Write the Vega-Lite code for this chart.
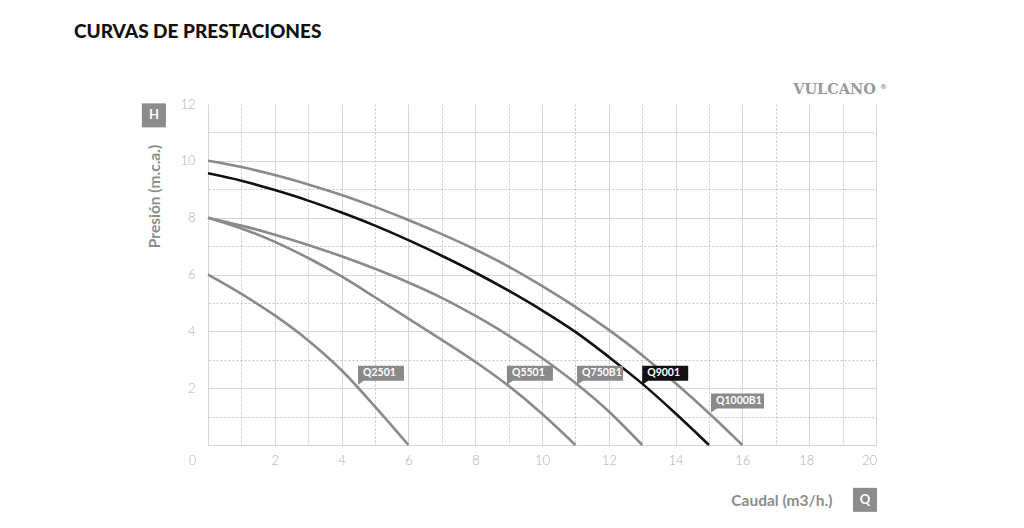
{
  "$schema": "https://vega.github.io/schema/vega-lite/v6.json",
  "width": 668,
  "height": 341,
  "autosize": {"type": "none"},
  "padding": {"left": 208, "top": 104, "right": 148, "bottom": 83},
  "background": "white",
  "title": {
    "text": "CURVAS DE PRESTACIONES",
    "anchor": "start",
    "frame": "group",
    "font": "Lato",
    "fontSize": 19,
    "fontWeight": 900,
    "color": "#111111",
    "dx": -134,
    "offset": 25,
    "baseline": "alphabetic"
  },
  "config": {"view": {"stroke": null}, "font": "Lato"},
  "datasets": {
    "curves": [
      {"s": "Q2501", "q": 0, "h": 6},
      {"s": "Q2501", "q": 1, "h": 5.32},
      {"s": "Q2501", "q": 2, "h": 4.56},
      {"s": "Q2501", "q": 3, "h": 3.68},
      {"s": "Q2501", "q": 4, "h": 2.63},
      {"s": "Q2501", "q": 5, "h": 1.35},
      {"s": "Q2501", "q": 6, "h": 0},
      {"s": "Q5501", "q": 0, "h": 8},
      {"s": "Q5501", "q": 1, "h": 7.62},
      {"s": "Q5501", "q": 2, "h": 7.15},
      {"s": "Q5501", "q": 3, "h": 6.58},
      {"s": "Q5501", "q": 4, "h": 5.93},
      {"s": "Q5501", "q": 5, "h": 5.2},
      {"s": "Q5501", "q": 6, "h": 4.45},
      {"s": "Q5501", "q": 7, "h": 3.7},
      {"s": "Q5501", "q": 8, "h": 2.93},
      {"s": "Q5501", "q": 9, "h": 2.08},
      {"s": "Q5501", "q": 10, "h": 1.1},
      {"s": "Q5501", "q": 11, "h": 0},
      {"s": "Q750B1", "q": 0, "h": 8},
      {"s": "Q750B1", "q": 1, "h": 7.72},
      {"s": "Q750B1", "q": 2, "h": 7.4},
      {"s": "Q750B1", "q": 3, "h": 7.04},
      {"s": "Q750B1", "q": 4, "h": 6.64},
      {"s": "Q750B1", "q": 5, "h": 6.2},
      {"s": "Q750B1", "q": 6, "h": 5.72},
      {"s": "Q750B1", "q": 7, "h": 5.18},
      {"s": "Q750B1", "q": 8, "h": 4.55},
      {"s": "Q750B1", "q": 9, "h": 3.85},
      {"s": "Q750B1", "q": 10, "h": 3.06},
      {"s": "Q750B1", "q": 11, "h": 2.18},
      {"s": "Q750B1", "q": 12, "h": 1.18},
      {"s": "Q750B1", "q": 13, "h": 0},
      {"s": "Q9001", "q": 0, "h": 9.56},
      {"s": "Q9001", "q": 1, "h": 9.3},
      {"s": "Q9001", "q": 2, "h": 8.97},
      {"s": "Q9001", "q": 3, "h": 8.6},
      {"s": "Q9001", "q": 4, "h": 8.18},
      {"s": "Q9001", "q": 5, "h": 7.72},
      {"s": "Q9001", "q": 6, "h": 7.21},
      {"s": "Q9001", "q": 7, "h": 6.66},
      {"s": "Q9001", "q": 8, "h": 6.07},
      {"s": "Q9001", "q": 9, "h": 5.43},
      {"s": "Q9001", "q": 10, "h": 4.74},
      {"s": "Q9001", "q": 11, "h": 3.98},
      {"s": "Q9001", "q": 12, "h": 3.1},
      {"s": "Q9001", "q": 13, "h": 2.16},
      {"s": "Q9001", "q": 14, "h": 1.11},
      {"s": "Q9001", "q": 15, "h": 0},
      {"s": "Q1000B1", "q": 0, "h": 10},
      {"s": "Q1000B1", "q": 1, "h": 9.78},
      {"s": "Q1000B1", "q": 2, "h": 9.5},
      {"s": "Q1000B1", "q": 3, "h": 9.17},
      {"s": "Q1000B1", "q": 4, "h": 8.8},
      {"s": "Q1000B1", "q": 5, "h": 8.38},
      {"s": "Q1000B1", "q": 6, "h": 7.92},
      {"s": "Q1000B1", "q": 7, "h": 7.42},
      {"s": "Q1000B1", "q": 8, "h": 6.88},
      {"s": "Q1000B1", "q": 9, "h": 6.28},
      {"s": "Q1000B1", "q": 10, "h": 5.6},
      {"s": "Q1000B1", "q": 11, "h": 4.86},
      {"s": "Q1000B1", "q": 12, "h": 4.05},
      {"s": "Q1000B1", "q": 13, "h": 3.16},
      {"s": "Q1000B1", "q": 14, "h": 2.17},
      {"s": "Q1000B1", "q": 15, "h": 1.12},
      {"s": "Q1000B1", "q": 16, "h": 0}
    ],
    "labels": [
      {"s": "Q2501", "q": 4.49, "h": 2.12},
      {"s": "Q5501", "q": 8.95, "h": 2.12},
      {"s": "Q750B1", "q": 11.05, "h": 2.12},
      {"s": "Q9001", "q": 13.0, "h": 2.12},
      {"s": "Q1000B1", "q": 15.06, "h": 1.14}
    ],
    "badges": [
      {"t": "H", "q": -1.62, "h": 11.6},
      {"t": "Q", "q": 19.67, "h": -1.93}
    ],
    "brand": [
      {"t": "VULCANO", "q": 20.0, "h": 12.49}
    ],
    "mark": [
      {"t": "®", "q": 20.12, "h": 12.6}
    ]
  },
  "encoding": {
    "x": {
      "field": "q",
      "type": "quantitative",
      "scale": {"domain": [0, 20], "nice": false, "zero": false},
      "axis": {
        "values": [0, 1, 2, 3, 4, 5, 6, 7, 8, 9, 10, 11, 12, 13, 14, 15, 16, 17, 18, 19, 20],
        "grid": true,
        "gridColor": {"condition": {"test": "datum.value % 2 != 0", "value": "#c4c4c4"}, "value": "#d6d6d6"},
        "gridWidth": 1,
        "gridDash": {"condition": {"test": "datum.value % 2 != 0", "value": [2, 2]}, "value": []},
        "domain": false,
        "ticks": false,
        "labelExpr": "datum.value % 2 === 0 ? datum.label : ''",
        "labelFont": "Lato",
        "labelFontSize": 13,
        "labelFontWeight": 300,
        "labelColor": "#b0b0b0",
        "labelPadding": 9,
        "labelOverlap": false,
        "labelFlush": false,
        "labelOffset": {
          "condition": [
            {"test": "datum.value === 0", "value": -16},
            {"test": "datum.value === 20", "value": -7},
            {"test": "datum.value === 18", "value": -3}
          ],
          "value": 0
        },
        "title": "Caudal (m3/h.)",
        "titleFont": "Lato",
        "titleFontSize": 15.5,
        "titleFontWeight": "bold",
        "titleColor": "#8c8c8c",
        "titleX": 624,
        "titleY": 55,
        "titleAlign": "right",
        "titleBaseline": "middle"
      }
    },
    "y": {
      "field": "h",
      "type": "quantitative",
      "scale": {"domain": [0, 12], "nice": false, "zero": false},
      "axis": {
        "values": [0, 1, 2, 3, 4, 5, 6, 7, 8, 9, 10, 11, 12],
        "grid": true,
        "gridColor": {"condition": {"test": "datum.value % 2 != 0", "value": "#c4c4c4"}, "value": "#d6d6d6"},
        "gridWidth": 1,
        "gridDash": {"condition": {"test": "datum.value % 2 != 0", "value": [2, 2]}, "value": []},
        "gridOpacity": {"condition": {"test": "datum.value === 12", "value": 0}, "value": 1},
        "domain": false,
        "ticks": false,
        "labelExpr": "datum.value % 2 === 0 && datum.value > 0 ? datum.label : ''",
        "labelFont": "Lato",
        "labelFontSize": 13,
        "labelFontWeight": 300,
        "labelColor": "#b0b0b0",
        "labelPadding": 13,
        "labelOverlap": false,
        "labelFlush": false,
        "title": "Presión (m.c.a.)",
        "titleFont": "Lato",
        "titleFontSize": 15.5,
        "titleFontWeight": "bold",
        "titleColor": "#8c8c8c",
        "titleAngle": -90,
        "titleX": -54,
        "titleY": 92,
        "titleAlign": "center",
        "titleBaseline": "middle"
      }
    }
  },
  "layer": [
    {
      "data": {"name": "curves"},
      "mark": {"type": "line", "interpolate": "monotone", "strokeWidth": 2.6},
      "encoding": {
        "color": {
          "field": "s",
          "type": "nominal",
          "scale": {
            "domain": ["Q2501", "Q5501", "Q750B1", "Q9001", "Q1000B1"],
            "range": ["#8a8a8a", "#8a8a8a", "#8a8a8a", "#111111", "#8a8a8a"]
          },
          "legend": null
        }
      }
    },
    {
      "data": {"name": "labels"},
      "mark": {"type": "point", "filled": true, "size": 4, "opacity": 1, "strokeWidth": 0},
      "encoding": {
        "color": {"field": "s", "type": "nominal", "legend": null},
        "shape": {
          "field": "s",
          "type": "nominal",
          "scale": {
            "domain": ["Q2501", "Q5501", "Q750B1", "Q9001", "Q1000B1"],
            "range": [
              "M0,0 L0,-19 L46,-19 L46,-4 L6,-4 Z",
              "M0,0 L0,-19 L46,-19 L46,-4 L6,-4 Z",
              "M0,0 L0,-19 L46,-19 L46,-4 L6,-4 Z",
              "M0,0 L0,-19 L46,-19 L46,-4 L6,-4 Z",
              "M0,0 L0,-19 L53,-19 L53,-4 L6,-4 Z"
            ]
          },
          "legend": null
        }
      }
    },
    {
      "data": {"name": "labels"},
      "mark": {"type": "text", "color": "#ffffff", "font": "Lato", "fontWeight": "bold", "fontSize": 10.5, "align": "left", "baseline": "middle", "dx": 5, "dy": -11.5},
      "encoding": {
        "text": {"field": "s", "type": "nominal"}
      }
    },
    {
      "data": {"name": "badges"},
      "mark": {"type": "square", "filled": true, "size": 576, "opacity": 1, "color": "#8c8c8c", "strokeWidth": 0},
      "encoding": {}
    },
    {
      "data": {"name": "badges"},
      "mark": {"type": "text", "color": "#ffffff", "font": "Lato", "fontWeight": "bold", "fontSize": 13, "align": "center", "baseline": "middle"},
      "encoding": {
        "text": {"field": "t", "type": "nominal"}
      }
    },
    {
      "data": {"name": "brand"},
      "mark": {"type": "text", "color": "#9a9a9a", "font": "DejaVu Serif", "fontWeight": "bold", "fontSize": 14.5, "align": "right", "baseline": "middle"},
      "encoding": {
        "text": {"field": "t", "type": "nominal"}
      }
    },
    {
      "data": {"name": "mark"},
      "mark": {"type": "text", "color": "#9a9a9a", "font": "DejaVu Sans", "fontWeight": "bold", "fontSize": 7, "align": "left", "baseline": "middle"},
      "encoding": {
        "text": {"field": "t", "type": "nominal"}
      }
    }
  ]
}
